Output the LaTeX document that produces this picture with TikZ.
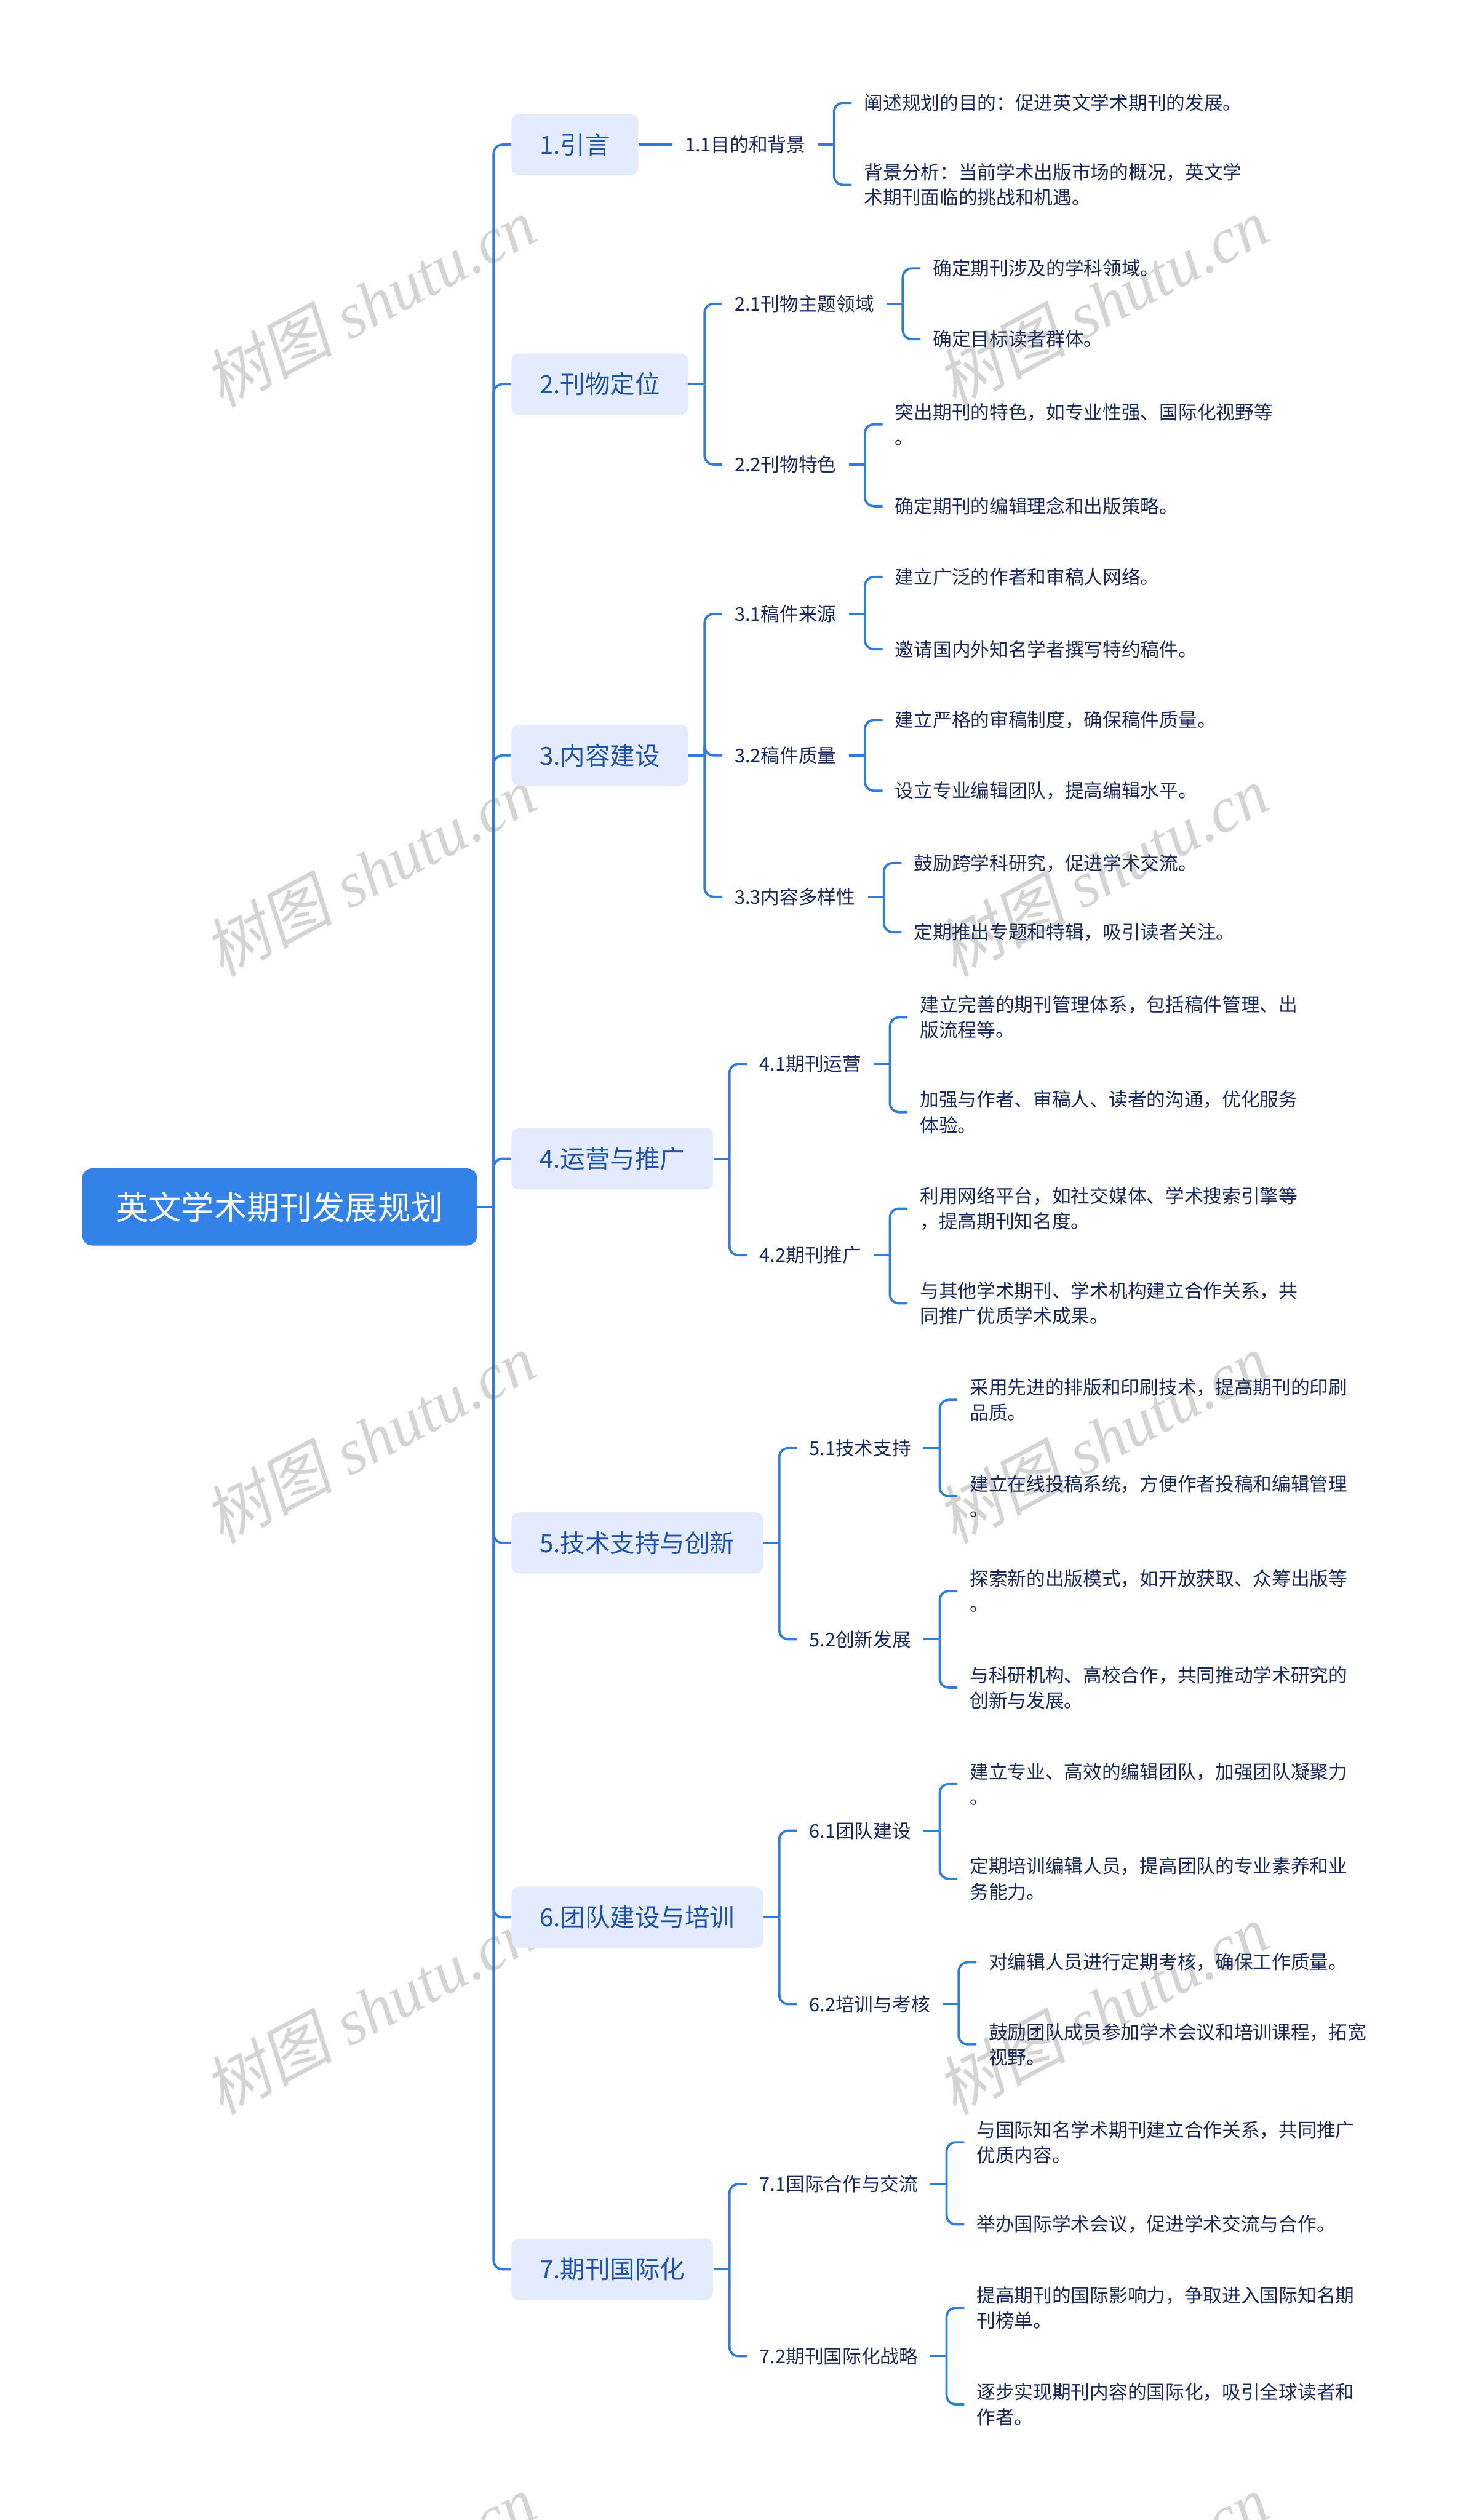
\documentclass[tikz,border=0pt]{standalone}
\usepackage{fontspec}
\setmainfont{Noto Sans CJK SC}
\newfontfamily\wmcjk[FakeSlant=0.18]{Noto Sans CJK SC}
\newfontfamily\wmlatin{Liberation Serif}
\usetikzlibrary{calc}

\definecolor{rootblue}{HTML}{3282E8}
\definecolor{topicfill}{HTML}{E3EBFC}
\definecolor{topictext}{HTML}{1E52AB}
\definecolor{leaftext}{HTML}{18295A}
\definecolor{linkblue}{HTML}{2E7CDF}
\definecolor{wmgray}{HTML}{D4D4D4}

\tikzset{
  rootbox/.style={fill=rootblue, rounded corners=5pt, text=white,
    font=\fontsize{16.3pt}{19pt}\selectfont, inner xsep=16.8pt, inner ysep=0pt,
    minimum height=38.4pt},
  topicbox/.style={fill=topicfill, rounded corners=3.5pt, text=topictext, anchor=west,
    font=\fontsize{12.4pt}{15pt}\selectfont, inner xsep=14pt, inner ysep=0pt,
    minimum height=30.4pt},
  subnode/.style={text=leaftext, anchor=west, inner xsep=6pt, inner ysep=1pt,
    font=\fontsize{9.4pt}{12.6pt}\selectfont},
  leafnode/.style={subnode, align=left},
  link/.style={draw=linkblue, line width=1.15pt, rounded corners=4.5pt},
  watermark/.style={text=wmgray, font=\wmlatin\itshape\fontsize{32pt}{32pt}\selectfont, rotate=28}
}

\begin{document}
\begin{tikzpicture}[x=0.8pt, y=-0.8pt]
  \useasboundingbox (0,0) rectangle (910,1568);
  \clip (0,0) rectangle (910,1568);

  % --- watermarks ---
  \foreach \wy in {188,542,895,1250,1605}
    \foreach \wx in {230,686}
      \node[watermark] at (\wx,\wy) {{\wmcjk 树图} shutu.cn};

  % --- root and topics ---
  \node[rootbox] (root) at (174,751) {英文学术期刊发展规划};
  \node[topicbox] (t1) at (318,90)   {1.引言};
  \node[topicbox] (t2) at (318,239)  {2.刊物定位};
  \node[topicbox] (t3) at (318,470)  {3.内容建设};
  \node[topicbox] (t4) at (318,721)  {4.运营与推广};
  \node[topicbox] (t5) at (318,960)  {5.技术支持与创新};
  \node[topicbox] (t6) at (318,1193) {6.团队建设与培训};
  \node[topicbox] (t7) at (318,1412) {7.期刊国际化};

  % --- second level ---
  \node[subnode] (s11) at ([xshift=16.8pt]t1.east) {1.1目的和背景};
  \node[subnode] (s21) at ([xshift=16.8pt]t2.east|-0,189)  {2.1刊物主题领域};
  \node[subnode] (s22) at ([xshift=16.8pt]t2.east|-0,289)  {2.2刊物特色};
  \node[subnode] (s31) at ([xshift=16.8pt]t3.east|-0,382)  {3.1稿件来源};
  \node[subnode] (s32) at ([xshift=16.8pt]t3.east|-0,470)  {3.2稿件质量};
  \node[subnode] (s33) at ([xshift=16.8pt]t3.east|-0,558)  {3.3内容多样性};
  \node[subnode] (s41) at ([xshift=16.8pt]t4.east|-0,662)  {4.1期刊运营};
  \node[subnode] (s42) at ([xshift=16.8pt]t4.east|-0,781)  {4.2期刊推广};
  \node[subnode] (s51) at ([xshift=16.8pt]t5.east|-0,901)  {5.1技术支持};
  \node[subnode] (s52) at ([xshift=16.8pt]t5.east|-0,1020) {5.2创新发展};
  \node[subnode] (s61) at ([xshift=16.8pt]t6.east|-0,1139) {6.1团队建设};
  \node[subnode] (s62) at ([xshift=16.8pt]t6.east|-0,1247) {6.2培训与考核};
  \node[subnode] (s71) at ([xshift=16.8pt]t7.east|-0,1359) {7.1国际合作与交流};
  \node[subnode] (s72) at ([xshift=16.8pt]t7.east|-0,1466) {7.2期刊国际化战略};

  % --- leaves ---
  \node[leafnode] (l111) at ([xshift=16.8pt]s11.east|-0,64)  {阐述规划的目的：促进英文学术期刊的发展。};
  \node[leafnode] (l112) at ([xshift=16.8pt]s11.east|-0,115) {背景分析：当前学术出版市场的概况，英文学\\术期刊面临的挑战和机遇。};
  \node[leafnode] (l211) at ([xshift=16.8pt]s21.east|-0,167) {确定期刊涉及的学科领域。};
  \node[leafnode] (l212) at ([xshift=16.8pt]s21.east|-0,211) {确定目标读者群体。};
  \node[leafnode] (l221) at ([xshift=16.8pt]s22.east|-0,264) {突出期刊的特色，如专业性强、国际化视野等\\。};
  \node[leafnode] (l222) at ([xshift=16.8pt]s22.east|-0,315) {确定期刊的编辑理念和出版策略。};
  \node[leafnode] (l311) at ([xshift=16.8pt]s31.east|-0,359) {建立广泛的作者和审稿人网络。};
  \node[leafnode] (l312) at ([xshift=16.8pt]s31.east|-0,404) {邀请国内外知名学者撰写特约稿件。};
  \node[leafnode] (l321) at ([xshift=16.8pt]s32.east|-0,448) {建立严格的审稿制度，确保稿件质量。};
  \node[leafnode] (l322) at ([xshift=16.8pt]s32.east|-0,492) {设立专业编辑团队，提高编辑水平。};
  \node[leafnode] (l331) at ([xshift=16.8pt]s33.east|-0,537) {鼓励跨学科研究，促进学术交流。};
  \node[leafnode] (l332) at ([xshift=16.8pt]s33.east|-0,580) {定期推出专题和特辑，吸引读者关注。};
  \node[leafnode] (l411) at ([xshift=16.8pt]s41.east|-0,633) {建立完善的期刊管理体系，包括稿件管理、出\\版流程等。};
  \node[leafnode] (l412) at ([xshift=16.8pt]s41.east|-0,692) {加强与作者、审稿人、读者的沟通，优化服务\\体验。};
  \node[leafnode] (l421) at ([xshift=16.8pt]s42.east|-0,752) {利用网络平台，如社交媒体、学术搜索引擎等\\，提高期刊知名度。};
  \node[leafnode] (l422) at ([xshift=16.8pt]s42.east|-0,811) {与其他学术期刊、学术机构建立合作关系，共\\同推广优质学术成果。};
  \node[leafnode] (l511) at ([xshift=16.8pt]s51.east|-0,871) {采用先进的排版和印刷技术，提高期刊的印刷\\品质。};
  \node[leafnode] (l512) at ([xshift=16.8pt]s51.east|-0,931) {建立在线投稿系统，方便作者投稿和编辑管理\\。};
  \node[leafnode] (l521) at ([xshift=16.8pt]s52.east|-0,990) {探索新的出版模式，如开放获取、众筹出版等\\。};
  \node[leafnode] (l522) at ([xshift=16.8pt]s52.east|-0,1050) {与科研机构、高校合作，共同推动学术研究的\\创新与发展。};
  \node[leafnode] (l611) at ([xshift=16.8pt]s61.east|-0,1110) {建立专业、高效的编辑团队，加强团队凝聚力\\。};
  \node[leafnode] (l612) at ([xshift=16.8pt]s61.east|-0,1169) {定期培训编辑人员，提高团队的专业素养和业\\务能力。};
  \node[leafnode] (l621) at ([xshift=16.8pt]s62.east|-0,1221) {对编辑人员进行定期考核，确保工作质量。};
  \node[leafnode] (l622) at ([xshift=16.8pt]s62.east|-0,1272) {鼓励团队成员参加学术会议和培训课程，拓宽\\视野。};
  \node[leafnode] (l711) at ([xshift=16.8pt]s71.east|-0,1333) {与国际知名学术期刊建立合作关系，共同推广\\优质内容。};
  \node[leafnode] (l712) at ([xshift=16.8pt]s71.east|-0,1384) {举办国际学术会议，促进学术交流与合作。};
  \node[leafnode] (l721) at ([xshift=16.8pt]s72.east|-0,1436) {提高期刊的国际影响力，争取进入国际知名期\\刊榜单。};
  \node[leafnode] (l722) at ([xshift=16.8pt]s72.east|-0,1496) {逐步实现期刊内容的国际化，吸引全球读者和\\作者。};

  % --- connectors ---
  \draw[link] (root.east) -- ++(10,0);
  \foreach \c in {t1,t2,t3,t4,t5,t6,t7}
    \draw[link] ([xshift=8pt]root.east) |- (\c.west);

  % single child: straight line
  \draw[link] (t1.east) -- (s11.west);

  \foreach \p/\c in {t2/s21, t2/s22, t3/s31, t3/s32, t3/s33,
      t4/s41, t4/s42, t5/s51, t5/s52, t6/s61, t6/s62, t7/s71, t7/s72,
      s11/l111, s11/l112, s21/l211, s21/l212, s22/l221, s22/l222,
      s31/l311, s31/l312, s32/l321, s32/l322, s33/l331, s33/l332,
      s41/l411, s41/l412, s42/l421, s42/l422, s51/l511, s51/l512,
      s52/l521, s52/l522, s61/l611, s61/l612, s62/l621, s62/l622,
      s71/l711, s71/l712, s72/l721, s72/l722}
  {
    \draw[link] (\p.east) -- ++(10,0);
    \draw[link] ([xshift=8pt]\p.east) |- (\c.west);
  }

\end{tikzpicture}
\end{document}
